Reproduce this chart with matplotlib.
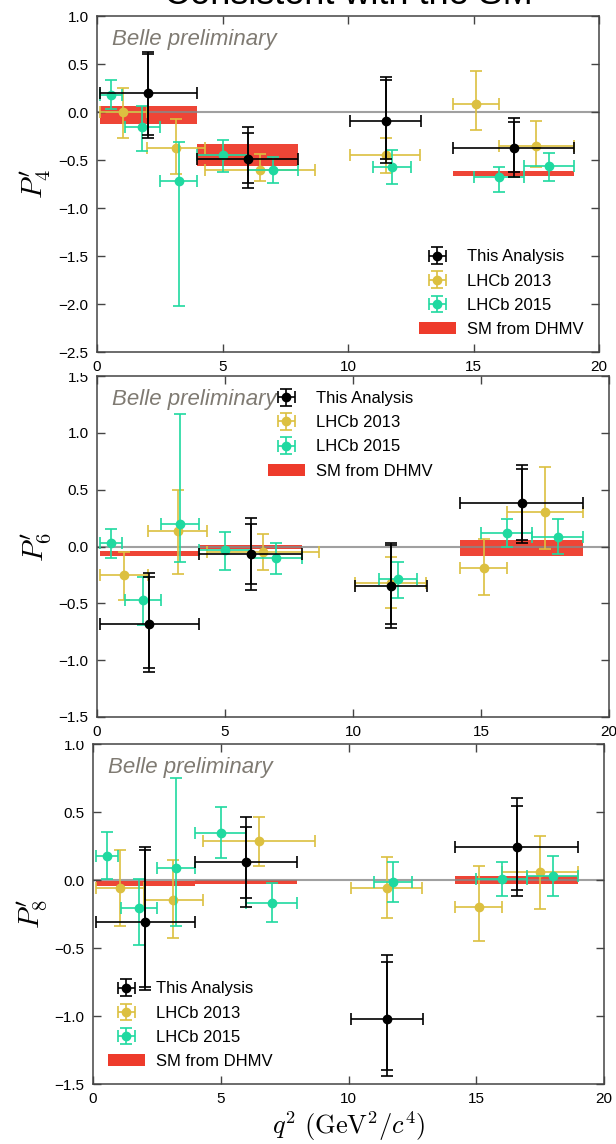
import matplotlib
matplotlib.use("Agg")
import matplotlib.pyplot as plt
import numpy as np
from matplotlib.patches import Patch, Rectangle

plt.rcParams['font.family'] = ['Liberation Sans', 'DejaVu Sans']
plt.rcParams['mathtext.fontset'] = 'cm'

# q^2 bins of each data set
belle_lo = [0.1, 4.0, 10.09, 14.18]
belle_hi = [4.0, 8.0, 12.9, 19.0]
belle_x = [2.05, 6.0, 11.5, 16.6]

lhcb13_lo = [0.1, 2.0, 4.3, 10.09, 14.18, 16.0]
lhcb13_hi = [2.0, 4.3, 8.68, 12.86, 16.0, 19.0]
lhcb13_x = [1.05, 3.15, 6.5, 11.5, 15.1, 17.5]

lhcb15_lo = [0.1, 1.1, 2.5, 4.0, 6.0, 11.0, 15.0, 17.0]
lhcb15_hi = [0.98, 2.5, 4.0, 6.0, 8.0, 12.5, 17.0, 19.0]
lhcb15_x = [0.55, 1.8, 3.25, 5.0, 7.0, 11.75, 16.0, 18.0]

sm_lo_q2 = [0.1, 4.0, 14.18]
sm_hi_q2 = [4.0, 8.0, 19.0]

# P4'
p4_belle = [0.20, -0.49, -0.09, -0.38]
p4_belle_stat_up = [0.40, 0.27, 0.42, 0.275]
p4_belle_stat_dn = [0.44, 0.25, 0.40, 0.25]
p4_belle_tot_up = [0.43, 0.33, 0.45, 0.32]
p4_belle_tot_dn = [0.47, 0.30, 0.44, 0.295]
p4_lhcb13 = [0.0, -0.37, -0.60, -0.45, 0.08, -0.35]
p4_lhcb13_up = [0.25, 0.30, 0.16, 0.18, 0.35, 0.255]
p4_lhcb13_dn = [0.27, 0.28, 0.12, 0.19, 0.27, 0.22]
p4_lhcb15 = [0.18, -0.16, -0.72, -0.45, -0.60, -0.57, -0.675, -0.56]
p4_lhcb15_up = [0.15, 0.22, 0.41, 0.16, 0.13, 0.17, 0.105, 0.135]
p4_lhcb15_dn = [0.15, 0.25, 1.30, 0.17, 0.14, 0.185, 0.155, 0.16]
p4_sm_lo = [-0.13, -0.56, -0.67]
p4_sm_hi = [0.06, -0.33, -0.61]

# P6'
p6_belle = [-0.68, -0.065, -0.35, 0.38]
p6_belle_stat_up = [0.41, 0.265, 0.36, 0.30]
p6_belle_stat_dn = [0.385, 0.265, 0.33, 0.325]
p6_belle_tot_up = [0.45, 0.315, 0.385, 0.34]
p6_belle_tot_dn = [0.42, 0.315, 0.37, 0.353]
p6_lhcb13 = [-0.25, 0.14, -0.05, -0.32, -0.19, 0.30]
p6_lhcb13_up = [0.20, 0.36, 0.16, 0.23, 0.255, 0.40]
p6_lhcb13_dn = [0.22, 0.38, 0.16, 0.225, 0.24, 0.32]
p6_lhcb15 = [0.03, -0.47, 0.20, -0.035, -0.10, -0.29, 0.12, 0.085]
p6_lhcb15_up = [0.12, 0.20, 0.965, 0.16, 0.135, 0.155, 0.12, 0.155]
p6_lhcb15_dn = [0.13, 0.22, 0.34, 0.175, 0.14, 0.16, 0.12, 0.155]
p6_sm_lo = [-0.08, -0.025, -0.08]
p6_sm_hi = [-0.04, 0.01, 0.06]

# P8'
p8_belle = [-0.31, 0.13, -1.02, 0.245]
p8_belle_stat_up = [0.53, 0.26, 0.42, 0.30]
p8_belle_stat_dn = [0.475, 0.26, 0.38, 0.315]
p8_belle_tot_up = [0.555, 0.33, 0.465, 0.355]
p8_belle_tot_dn = [0.50, 0.33, 0.42, 0.365]
p8_lhcb13 = [-0.06, -0.15, 0.29, -0.06, -0.20, 0.06]
p8_lhcb13_up = [0.28, 0.30, 0.175, 0.23, 0.30, 0.26]
p8_lhcb13_dn = [0.28, 0.28, 0.19, 0.22, 0.25, 0.27]
p8_lhcb15 = [0.18, -0.205, 0.09, 0.345, -0.17, -0.015, 0.01, 0.03]
p8_lhcb15_up = [0.175, 0.215, 0.66, 0.19, 0.145, 0.15, 0.125, 0.145]
p8_lhcb15_dn = [0.17, 0.275, 0.43, 0.18, 0.14, 0.145, 0.13, 0.15]
p8_sm_lo = [-0.045, -0.03, -0.03]
p8_sm_hi = [-0.005, 0.0, 0.03]

BLACK = '#000000'
GOLD = '#dcc040'
TEAL = '#1fd9a0'
RED = '#ee3b2b'

W, H = 616, 1144


def px_axes(fig, left, top, right, bottom):
    return fig.add_axes([left / W, 1 - bottom / H, (right - left) / W, (bottom - top) / H])


def xerrs(x, lo, hi):
    x = np.array(x)
    return [x - np.array(lo), np.array(hi) - x]


def draw_panel(ax, belle, st_up, st_dn, tot_up, tot_dn, l13, l13_up, l13_dn,
               l15, l15_up, l15_dn, sm_lo, sm_hi, ylim, ylabel):
    kw = dict(fmt='o', ms=6, capsize=4, elinewidth=1.2, capthick=1.2)
    sm_lo, sm_hi = np.array(sm_lo), np.array(sm_hi)
    q_lo, q_hi = np.array(sm_lo_q2), np.array(sm_hi_q2)
    ax.bar((q_lo + q_hi) / 2, sm_hi - sm_lo, bottom=sm_lo, width=q_hi - q_lo,
           color=RED, alpha=0.95, zorder=1, linewidth=0)
    ax.axhline(0, color='#888888', lw=1.5, alpha=0.8, zorder=1.5)
    h13 = ax.errorbar(lhcb13_x, l13, yerr=[l13_dn, l13_up],
                      xerr=xerrs(lhcb13_x, lhcb13_lo, lhcb13_hi),
                      color=GOLD, zorder=2, **kw)
    h15 = ax.errorbar(lhcb15_x, l15, yerr=[l15_dn, l15_up],
                      xerr=xerrs(lhcb15_x, lhcb15_lo, lhcb15_hi),
                      color=TEAL, zorder=3, **kw)
    hb = ax.errorbar(belle_x, belle, yerr=[tot_dn, tot_up],
                     xerr=xerrs(belle_x, belle_lo, belle_hi),
                     color=BLACK, zorder=4, **kw)
    ax.errorbar(belle_x, belle, yerr=[st_dn, st_up], fmt='none', ecolor=BLACK,
                capsize=4, elinewidth=1.2, capthick=1.2, zorder=4)
    hsm = Patch(color=RED, linewidth=0)

    ax.set_xlim(0, 20)
    ax.set_ylim(*ylim)
    ax.set_xticks([0, 5, 10, 15, 20])
    ax.set_yticks(np.arange(ylim[0], ylim[1] + 0.01, 0.5))
    ax.tick_params(direction='in', top=True, right=True, length=6, width=1,
                   color='#444444', labelsize=11)
    ax.tick_params(axis='x', pad=6)
    ax.tick_params(axis='y', pad=6)
    for s in ax.spines.values():
        s.set_color('#444444')
        s.set_linewidth(1.1)
    ax.set_ylabel(ylabel, fontsize=21, labelpad=4)
    ax.text(0.03, 0.93, 'Belle preliminary', transform=ax.transAxes, style='italic',
            fontsize=16, color='#7f7a72', va='center', ha='left')
    return [hb, h13, h15, hsm]


fig = plt.figure(figsize=(W / 100, H / 100), dpi=100)
fig.patch.set_facecolor('white')

labels = ['This Analysis', 'LHCb 2013', 'LHCb 2015', 'SM from DHMV']
leg_kw = dict(frameon=False, fontsize=12, labelspacing=0.55, handlelength=2.2,
              handletextpad=0.7)

ax2 = px_axes(fig, 97, 376, 609, 717)
ax2.set_zorder(1)
h = draw_panel(ax2, p6_belle, p6_belle_stat_up, p6_belle_stat_dn, p6_belle_tot_up,
               p6_belle_tot_dn, p6_lhcb13, p6_lhcb13_up, p6_lhcb13_dn, p6_lhcb15,
               p6_lhcb15_up, p6_lhcb15_dn, p6_sm_lo, p6_sm_hi, (-1.5, 1.5),
               r"$P_6^{\prime}$")
ax2.legend(h, labels, loc='upper left', bbox_to_anchor=(0.305, 1.0), **leg_kw)

ax3 = px_axes(fig, 93, 744, 604, 1084)
ax3.set_zorder(0)
h = draw_panel(ax3, p8_belle, p8_belle_stat_up, p8_belle_stat_dn, p8_belle_tot_up,
               p8_belle_tot_dn, p8_lhcb13, p8_lhcb13_up, p8_lhcb13_dn, p8_lhcb15,
               p8_lhcb15_up, p8_lhcb15_dn, p8_sm_lo, p8_sm_hi, (-1.5, 1.0),
               r"$P_8^{\prime}$")
ax3.legend(h, labels, loc='lower left', **leg_kw)
ax3.set_xlabel(r"$q^2\ (\mathrm{GeV}^2/c^4)$", fontsize=19, labelpad=2)

ax1 = px_axes(fig, 97, 16, 599, 352)
ax1.set_zorder(3)
h = draw_panel(ax1, p4_belle, p4_belle_stat_up, p4_belle_stat_dn, p4_belle_tot_up,
               p4_belle_tot_dn, p4_lhcb13, p4_lhcb13_up, p4_lhcb13_dn, p4_lhcb15,
               p4_lhcb15_up, p4_lhcb15_dn, p4_sm_lo, p4_sm_hi, (-2.5, 1.0),
               r"$P_4^{\prime}$")
ax1.legend(h, labels, loc='lower right', **leg_kw)

# pasted-image edges hiding the top of the next panel's first tick label
for y0, y1, z in [(353, 373, 2), (718, 741, 0.5)]:
    fig.patches.append(Rectangle((0, 1 - y1 / H), 1, (y1 - y0) / H, transform=fig.transFigure,
                                 facecolor='white', edgecolor='none', zorder=z))

# title of the slide, cut off by the top edge as in the reference
fig.text(348 / W, 1 - 4 / H, 'Consistent with the SM', fontsize=26, ha='center',
         va='baseline', color='black')

fig.savefig('out.png', dpi=100)
